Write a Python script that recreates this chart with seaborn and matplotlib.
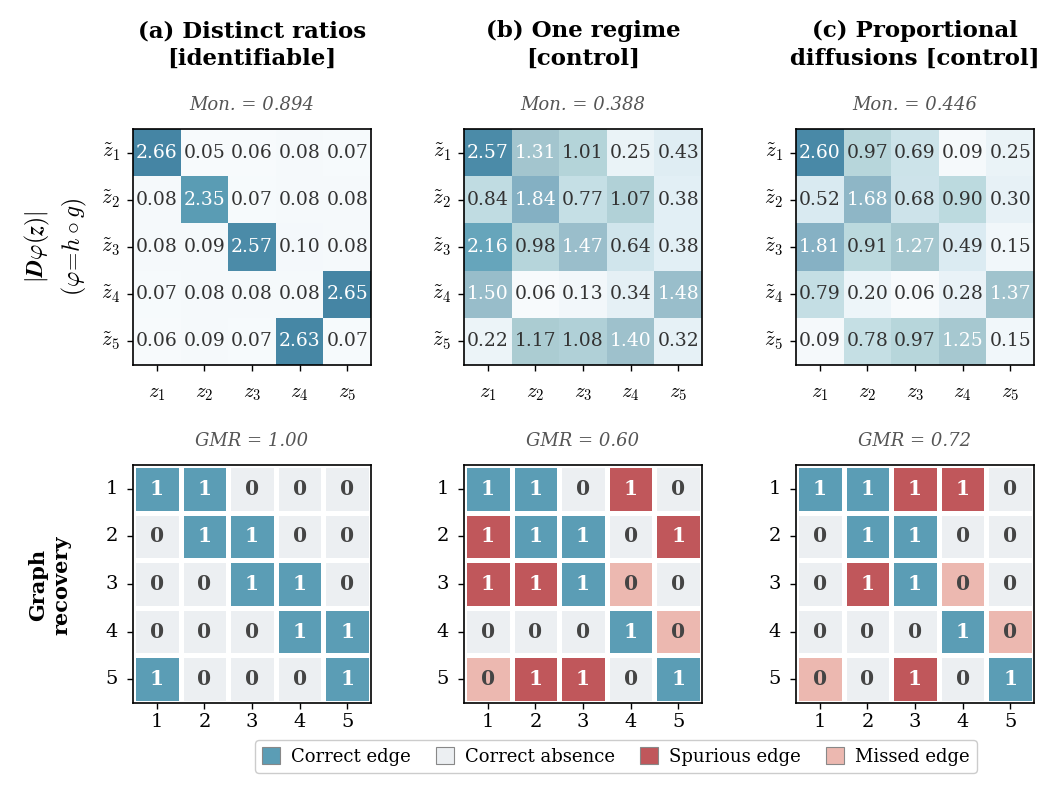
import numpy as np
import matplotlib
matplotlib.use("Agg")
import matplotlib.pyplot as plt
from matplotlib.colors import LinearSegmentedColormap, ListedColormap
from matplotlib.patches import Patch
import seaborn as sns

sns.set_theme(style="ticks")
plt.rcParams["font.family"] = ["DejaVu Serif"]
plt.rcParams["mathtext.fontset"] = "cm"
plt.rcParams["text.color"] = "black"
plt.rcParams["axes.labelcolor"] = "black"
plt.rcParams["xtick.color"] = "black"
plt.rcParams["ytick.color"] = "black"

# ---------------- data ----------------
panel_titles = ["(a) Distinct ratios\n[identifiable]",
                "(b) One regime\n[control]",
                "(c) Proportional\ndiffusions [control]"]
mon_scores = [0.894, 0.388, 0.446]
gmr_scores = [1.00, 0.60, 0.72]

jac_a = [[2.66, 0.05, 0.06, 0.08, 0.07],
         [0.08, 2.35, 0.07, 0.08, 0.08],
         [0.08, 0.09, 2.57, 0.10, 0.08],
         [0.07, 0.08, 0.08, 0.08, 2.65],
         [0.06, 0.09, 0.07, 2.63, 0.07]]
jac_b = [[2.57, 1.31, 1.01, 0.25, 0.43],
         [0.84, 1.84, 0.77, 1.07, 0.38],
         [2.16, 0.98, 1.47, 0.64, 0.38],
         [1.50, 0.06, 0.13, 0.34, 1.48],
         [0.22, 1.17, 1.08, 1.40, 0.32]]
jac_c = [[2.60, 0.97, 0.69, 0.09, 0.25],
         [0.52, 1.68, 0.68, 0.90, 0.30],
         [1.81, 0.91, 1.27, 0.49, 0.15],
         [0.79, 0.20, 0.06, 0.28, 1.37],
         [0.09, 0.78, 0.97, 1.25, 0.15]]

true_graph = [[1, 1, 0, 0, 0],
              [0, 1, 1, 0, 0],
              [0, 0, 1, 1, 0],
              [0, 0, 0, 1, 1],
              [1, 0, 0, 0, 1]]
pred_a = [[1, 1, 0, 0, 0],
          [0, 1, 1, 0, 0],
          [0, 0, 1, 1, 0],
          [0, 0, 0, 1, 1],
          [1, 0, 0, 0, 1]]
pred_b = [[1, 1, 0, 1, 0],
          [1, 1, 1, 0, 1],
          [1, 1, 1, 0, 0],
          [0, 0, 0, 1, 0],
          [0, 1, 1, 0, 1]]
pred_c = [[1, 1, 1, 1, 0],
          [0, 1, 1, 0, 0],
          [0, 1, 1, 0, 0],
          [0, 0, 0, 1, 0],
          [0, 0, 1, 0, 1]]

row_labels = [r"$\tilde{z}_%d$" % i for i in range(1, 6)]
col_labels = [r"$z_%d$" % i for i in range(1, 6)]
node_labels = ["1", "2", "3", "4", "5"]
legend_labels = ["Correct edge", "Correct absence", "Spurious edge", "Missed edge"]
legend_colors = ["#5b9db5", "#eceff2", "#c0575b", "#ecb8b0"]

# ---------------- styling ----------------
jac_cmap = LinearSegmentedColormap.from_list(
    "jac",
    [(0.0, "#fafcfd"), (0.1, "#e9f2f7"), (0.2, "#d8eaf1"), (0.35, "#b9d8dd"),
     (0.45, "#a9cad1"), (0.6, "#93b9c8"), (0.72, "#80aec2"), (0.81, "#66a5bb"),
     (0.88, "#5b9db5"), (1.0, "#4585a4")])
graph_cmap = ListedColormap(legend_colors)

W, H = 1064, 795
fig = plt.figure(figsize=(W / 100, H / 100), dpi=100)

col_lefts = [133, 464, 796]
ax_w = 238
top_row = (129, 365)
bot_row = (465, 703)

jacs = [jac_a, jac_b, jac_c]
preds = [pred_a, pred_b, pred_c]
truth = np.array(true_graph)


def frame(ax):
    for s in ax.spines.values():
        s.set_visible(True)
        s.set_linewidth(1.2)
        s.set_color("black")
    ax.tick_params(length=4, width=1, left=True, bottom=True, colors="black",
                   labelsize=13)


for k in range(3):
    x0 = col_lefts[k]
    # top row
    ax = fig.add_axes([x0 / W, 1 - top_row[1] / H, ax_w / W,
                       (top_row[1] - top_row[0]) / H])
    vals = np.array(jacs[k])
    sns.heatmap(vals, ax=ax, cmap=jac_cmap, vmin=0, vmax=2.66, cbar=False,
                annot=True, fmt=".2f", annot_kws={"fontsize": 13.5},
                xticklabels=col_labels, yticklabels=row_labels)
    for t, v in zip(ax.texts, vals.flatten()):
        t.set_color("white" if v > 1.2 else "#333333")
    frame(ax)
    ax.tick_params(axis="x", labelsize=15, pad=10)
    ax.tick_params(axis="y", labelsize=15, pad=5)
    ax.set_yticklabels(row_labels, rotation=0)
    ax.set_xticklabels(col_labels, rotation=0)
    ax.set_title("Mon. = %.3f" % mon_scores[k], style="italic",
                 color="#555555", fontsize=13, pad=14)

    # bottom row
    axb = fig.add_axes([x0 / W, 1 - bot_row[1] / H, ax_w / W,
                        (bot_row[1] - bot_row[0]) / H])
    pred = np.array(preds[k])
    codes = np.where(pred == 1, np.where(truth == 1, 0, 2),
                     np.where(truth == 1, 3, 1))
    sns.heatmap(codes, ax=axb, cmap=graph_cmap, vmin=-0.5, vmax=3.5,
                cbar=False, annot=pred, fmt="d",
                annot_kws={"fontsize": 14.5, "fontweight": "bold"},
                linewidths=2.5, linecolor="white",
                xticklabels=node_labels, yticklabels=node_labels)
    for t, v in zip(axb.texts, pred.flatten()):
        t.set_color("white" if v == 1 else "#444444")
    frame(axb)
    axb.tick_params(labelsize=14)
    axb.tick_params(axis="y", pad=7)
    axb.set_yticklabels(node_labels, rotation=0)
    axb.set_xticklabels(node_labels, rotation=0)
    axb.set_title("GMR = %.2f" % gmr_scores[k], style="italic",
                  color="#555555", fontsize=13, pad=14)

    fig.text((x0 + ax_w / 2) / W, 1 - 45 / H, panel_titles[k],
             ha="center", va="center", fontsize=16.5, fontweight="bold",
             linespacing=1.3)

fig.text(56 / W, 1 - 247 / H,
         "$|\\boldsymbol{D}\\varphi(\\boldsymbol{z})|$\n$(\\varphi\\!=\\!h\\circ g)$",
         rotation=90, ha="center", va="center", fontsize=17, linespacing=1.35)
fig.text(50 / W, 1 - 585 / H, "Graph\nrecovery", rotation=90,
         ha="center", va="center", fontsize=15, fontweight="bold")

handles = [Patch(facecolor=c, edgecolor="#888888", linewidth=0.8)
           for c in legend_colors]
fig.legend(handles, legend_labels, loc="lower center", ncol=4,
           bbox_to_anchor=(616 / W, 13 / H), fontsize=13, frameon=True,
           edgecolor="#cccccc", framealpha=1, handlelength=1.0,
           handleheight=1.0, columnspacing=1.4, handletextpad=0.6,
           borderpad=0.4, fancybox=True)

fig.savefig("out.png", dpi=100)
